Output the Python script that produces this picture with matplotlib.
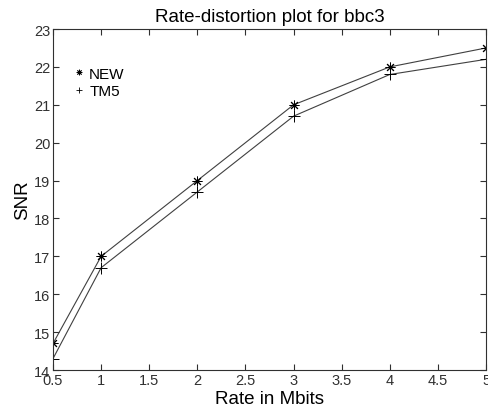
import matplotlib
matplotlib.use('Agg')
from matplotlib import pyplot as plt
from matplotlib.lines import Line2D

plt.rcParams['font.family'] = ['Liberation Sans', 'DejaVu Sans']

rate = [0.5, 1, 2, 3, 4, 5]
snr_new = [14.7, 17.0, 19.0, 21.0, 22.0, 22.5]
snr_tm5 = [14.3, 16.7, 18.7, 20.7, 21.8, 22.2]
xticks = [0.5, 1, 1.5, 2, 2.5, 3, 3.5, 4, 4.5, 5]
xticklabels = ['0.5', '1', '1.5', '2', '2.5', '3', '3.5', '4', '4.5', '5']
yticks = [14, 15, 16, 17, 18, 19, 20, 21, 22, 23]

fig = plt.figure(figsize=(4.88, 4.10), dpi=100)
ax = fig.add_axes([0.1086, 0.0951, 0.8874, 0.8317])

ax.plot(rate, snr_new, color='#404040', lw=0.8, marker=(8, 2, 0), ms=7,
        mec='black', mew=0.7)
ax.plot(rate, snr_tm5, color='#404040', lw=0.8, marker='+', ms=8,
        mec='black', mew=0.7)

ax.set_xlim(0.5, 5)
ax.set_ylim(14, 23)
ax.set_xticks(xticks)
ax.set_xticklabels(xticklabels)
ax.set_yticks(yticks)
ax.tick_params(direction='in', top=True, right=True, length=4, width=0.8,
               labelsize=10.5, colors='#303030', pad=2)
for s in ax.spines.values():
    s.set_linewidth(0.8)
    s.set_color('#303030')

ax.set_title('Rate-distortion plot for bbc3', fontsize=13.5, pad=6)
ax.set_xlabel('Rate in Mbits', fontsize=13.5, labelpad=2)
ax.set_ylabel('SNR', fontsize=13.5, labelpad=2)

handles = [Line2D([], [], ls='none', marker=(8, 2, 0), ms=4, color='black', mew=0.6),
           Line2D([], [], ls='none', marker='+', ms=5, color='black', mew=0.6)]
ax.legend(handles, ['NEW', 'TM5'], loc='upper left', frameon=False,
          fontsize=11, handlelength=0.5, handletextpad=0.4,
          labelspacing=0.25, bbox_to_anchor=(0.02, 0.93))

fig.savefig('out.png', dpi=100)
